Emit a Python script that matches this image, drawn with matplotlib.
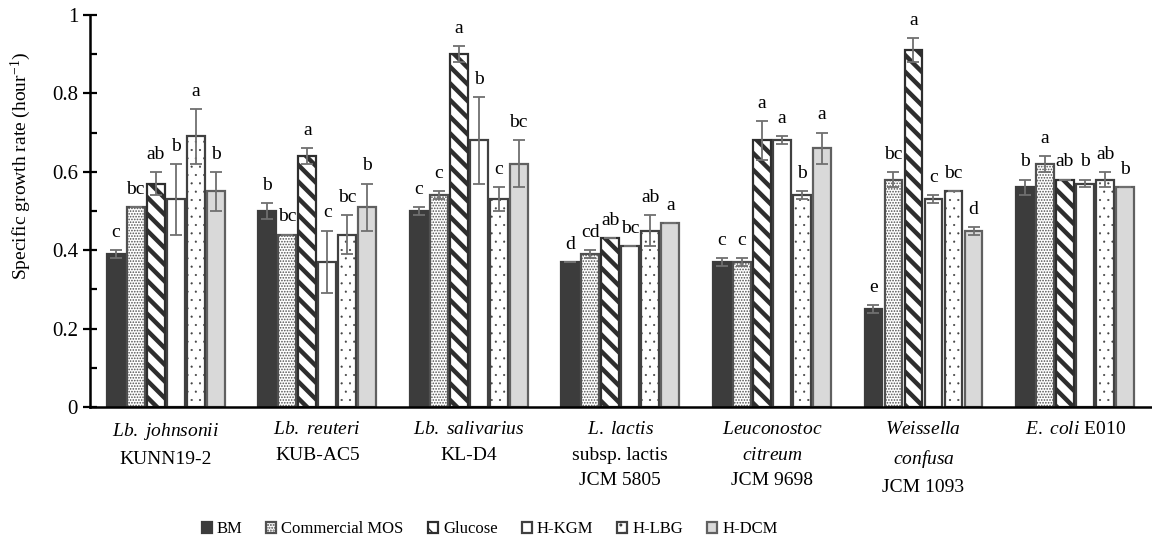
import numpy as np
import matplotlib as mpl
import matplotlib.pyplot as plt
from matplotlib.patches import Patch

plt.rcParams["font.family"] = ["Liberation Serif", "DejaVu Serif"]
plt.rcParams["mathtext.fontset"] = "custom"
plt.rcParams["mathtext.rm"] = "Liberation Serif"
plt.rcParams["mathtext.it"] = "Liberation Serif:italic"

strains = [
    r"$\mathit{Lb.\ johnsonii}$" + "\nKUNN19-2",
    r"$\mathit{Lb.\ reuteri}$" + "\nKUB-AC5",
    r"$\mathit{Lb.\ salivarius}$" + "\nKL-D4",
    r"$\mathit{L.\ lactis}$" + "\nsubsp. lactis\nJCM 5805",
    r"$\mathit{Leuconostoc}$" + "\n" + r"$\mathit{citreum}$" + "\nJCM 9698",
    r"$\mathit{Weissella}$" + "\n" + r"$\mathit{confusa}$" + "\nJCM 1093",
    r"$\mathit{E.\ coli}$" + " E010",
]
media = ["BM", "Commercial MOS", "Glucose", "H-KGM", "H-LBG", "H-DCM"]

bm = [0.39, 0.50, 0.50, 0.37, 0.37, 0.25, 0.56]
mos = [0.51, 0.44, 0.54, 0.39, 0.37, 0.58, 0.62]
glucose = [0.57, 0.64, 0.90, 0.43, 0.68, 0.91, 0.58]
h_kgm = [0.53, 0.37, 0.68, 0.41, 0.68, 0.53, 0.57]
h_lbg = [0.69, 0.44, 0.53, 0.45, 0.54, 0.55, 0.58]
h_dcm = [0.55, 0.51, 0.62, 0.47, 0.66, 0.45, 0.56]

bm_err = [0.01, 0.02, 0.01, 0.0, 0.01, 0.01, 0.02]
mos_err = [0.0, 0.0, 0.01, 0.01, 0.01, 0.02, 0.02]
glucose_err = [0.03, 0.02, 0.02, 0.0, 0.05, 0.03, 0.0]
h_kgm_err = [0.09, 0.08, 0.11, 0.0, 0.01, 0.01, 0.01]
h_lbg_err = [0.07, 0.05, 0.03, 0.04, 0.01, 0.0, 0.02]
h_dcm_err = [0.05, 0.06, 0.06, 0.0, 0.04, 0.01, 0.0]

bm_sig = ["c", "b", "c", "d", "c", "e", "b"]
mos_sig = ["bc", "bc", "c", "cd", "c", "bc", "a"]
glucose_sig = ["ab", "a", "a", "ab", "a", "a", "ab"]
h_kgm_sig = ["b", "c", "b", "bc", "a", "c", "b"]
h_lbg_sig = ["a", "bc", "c", "ab", "b", "bc", "ab"]
h_dcm_sig = ["b", "b", "bc", "a", "a", "d", "b"]

values = [bm, mos, glucose, h_kgm, h_lbg, h_dcm]
errors = [bm_err, mos_err, glucose_err, h_kgm_err, h_lbg_err, h_dcm_err]
letters = [bm_sig, mos_sig, glucose_sig, h_kgm_sig, h_lbg_sig, h_dcm_sig]

# facecolor, edgecolor, hatch, hatch linewidth
styles = [
    ("#3c3c3c", "#3c3c3c", None, 1.0),
    ("white", "#505050", "......", 0.8),
    ("white", "#2e2e2e", "\\\\", 3.2),
    ("white", "#404040", None, 1.0),
    ("white", "#404040", "..", 0.3),
    ("#d9d9d9", "#606060", None, 1.0),
]

fig = plt.figure(figsize=(11.52, 5.48), dpi=100)
ax = fig.add_axes([0.078, 0.257, 0.921, 0.716])

x = np.arange(len(strains))
slot = 0.132
width = 0.118
for i, (vals, errs, sig, st) in enumerate(zip(values, errors, letters, styles)):
    pos = x + (i - 2.5) * slot
    fc, ec, hatch, hlw = st
    with mpl.rc_context({"hatch.linewidth": hlw}):
        bars = ax.bar(pos, vals, width=width, linewidth=1.6, facecolor=fc,
                      edgecolor=ec, hatch=hatch, label=media[i])
    for b in bars:
        if hasattr(b, "set_hatch_linewidth"):
            b.set_hatch_linewidth(hlw)
    ax.errorbar(pos, vals, yerr=errs, fmt="none", ecolor="#707070",
                elinewidth=1.3, capsize=4, capthick=1.3)
    for p, v, e, s in zip(pos, vals, errs, sig):
        ax.text(p, v + e + 0.045, s, ha="center", va="center", fontsize=14)

ax.set_xlim(-0.5, len(strains) - 0.5)
ax.set_ylim(0, 1)
ax.set_yticks(np.arange(0, 1.01, 0.2))
ax.set_yticklabels(["0", "0.2", "0.4", "0.6", "0.8", "1"], fontsize=15)
ax.set_yticks(np.arange(0.1, 1.0, 0.2), minor=True)
ax.tick_params(axis="y", which="major", direction="inout", length=10, width=1.6)
ax.tick_params(axis="y", which="minor", direction="in", length=5, width=1.6)
ax.set_xticks(x)
ax.set_xticklabels(strains, fontsize=14, linespacing=1.65, va="top")
ax.tick_params(axis="x", length=0, pad=10)
ax.set_ylabel("Specific growth rate (hour$^{-1}$)", fontsize=14)
ax.yaxis.set_label_coords(-0.054, 0.615)

for side in ("top", "right"):
    ax.spines[side].set_visible(False)
ax.spines["left"].set_linewidth(1.8)
ax.spines["bottom"].set_linewidth(1.8)

handles = []
for st in styles:
    fc, ec, hatch, hlw = st
    with mpl.rc_context({"hatch.linewidth": hlw}):
        h = Patch(facecolor=fc, edgecolor=ec, hatch=hatch, linewidth=1.6)
    if hasattr(h, "set_hatch_linewidth"):
        h.set_hatch_linewidth(hlw)
    handles.append(h)
fig.legend(handles, media, loc="center", bbox_to_anchor=(0.425, 0.034),
           ncol=6, frameon=False, fontsize=12, handlelength=0.6, handleheight=0.6,
           handletextpad=0.3, columnspacing=1.45)

fig.savefig("out.png", dpi=100)
